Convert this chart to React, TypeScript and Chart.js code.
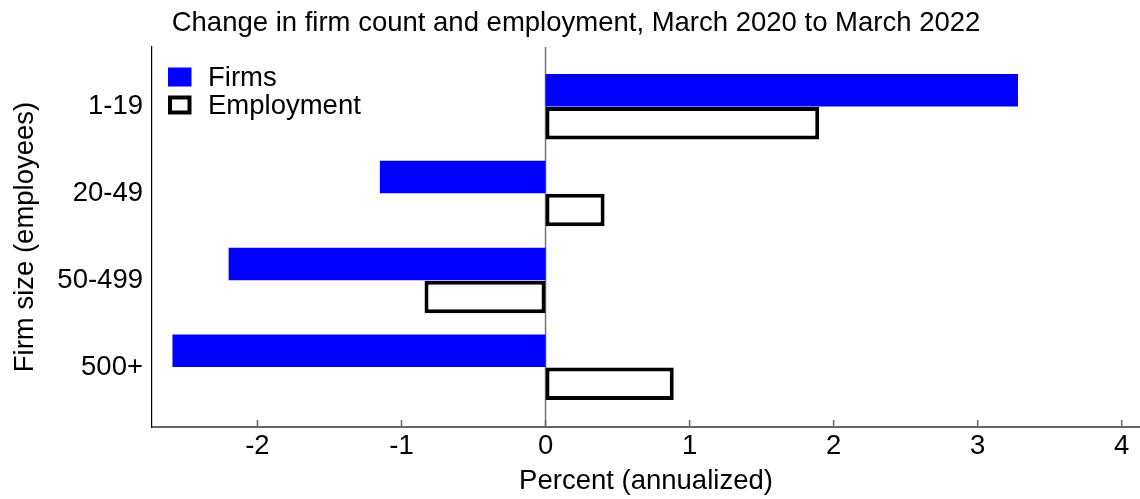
import React, { useEffect, useRef } from "react";
import { Chart, registerables } from "chart.js";

Chart.register(...registerables);

const categories = ["1-19", "20-49", "50-499", "500+"];
const firmsValues = [3.28, -1.15, -2.2, -2.59];
const employmentValues = [1.9, 0.41, -0.84, 0.89];
const xTickValues = [-2, -1, 0, 1, 2, 3, 4];
const titleText = "Change in firm count and employment, March 2020 to March 2022";
const xTitle = "Percent (annualized)";
const yTitle = "Firm size (employees)";
const seriesLabels = ["Firms", "Employment"];

const FONT = "'Liberation Sans', Arial, Helvetica, sans-serif";
const FS = 27.5;

const extrasPlugin = {
  id: "extras",
  afterLayout(chart: any) {
    const tb = chart.titleBlock;
    if (tb) {
      tb.left += 12;
    }
  },
  beforeDatasetsDraw(chart: any) {
    const { ctx, chartArea, scales } = chart;
    const x = scales.x;
    const px = x.getPixelForValue(0);
    ctx.save();
    ctx.strokeStyle = "#777";
    ctx.lineWidth = 1.5;
    ctx.beginPath();
    ctx.moveTo(px, chartArea.top);
    ctx.lineTo(px, chartArea.bottom);
    ctx.stroke();
    ctx.restore();
  },
  afterDraw(chart: any) {
    const { ctx, chartArea, scales } = chart;
    const x = scales.x;
    ctx.save();
    // inward tick marks
    ctx.strokeStyle = "#666";
    ctx.lineWidth = 1.5;
    for (const v of xTickValues) {
      const p = x.getPixelForValue(v);
      ctx.beginPath();
      ctx.moveTo(p, chartArea.bottom);
      ctx.lineTo(p, chartArea.bottom - 7);
      ctx.stroke();
    }
    // legend
    const ds = chart.data.datasets;
    const bx = chartArea.left + 16;
    const rows = [77, 105];
    ctx.font = `${FS}px ${FONT}`;
    ctx.textBaseline = "middle";
    ctx.textAlign = "left";
    ds.forEach((d: any, i: number) => {
      const cy = rows[i];
      const w = 23.5, h = 19;
      ctx.fillStyle = d.backgroundColor;
      ctx.fillRect(bx, cy - h / 2, w, h);
      if (d.borderWidth) {
        ctx.strokeStyle = d.borderColor;
        ctx.lineWidth = 4;
        ctx.strokeRect(bx + 2, cy - h / 2 + 2, w - 4, h - 4);
      }
      ctx.fillStyle = "#000";
      ctx.fillText(d.label, bx + 40, cy + 1);
    });
    ctx.restore();
  },
};

export default function App() {
  const ref = useRef<HTMLCanvasElement | null>(null);

  useEffect(() => {
    if (!ref.current) return;
    Chart.defaults.font.family = FONT;
    Chart.defaults.color = "#000";
    const chart = new Chart(ref.current, {
      type: "bar",
      data: {
        datasets: [
          {
            label: seriesLabels[0],
            data: firmsValues.map((v, i) => ({ x: v, y: i })),
            backgroundColor: "#0000ff",
            borderWidth: 0,
          },
          {
            label: seriesLabels[1],
            data: employmentValues.map((v, i) => ({ x: v, y: i })),
            backgroundColor: "#ffffff",
            borderColor: "#000000",
            borderWidth: 4,
            borderSkipped: false,
          },
        ],
      },
      options: {
        indexAxis: "y",
        animation: false,
        responsive: true,
        maintainAspectRatio: false,
        categoryPercentage: 0.76,
        barPercentage: 0.985,
        layout: { padding: 0 },
        plugins: {
          legend: { display: false },
          tooltip: { enabled: false },
          title: {
            display: true,
            text: titleText,
            font: { size: FS, weight: "normal", family: FONT },
            color: "#000",
            padding: { top: 7, bottom: 7 },
          },
        },
        scales: {
          x: {
            type: "linear",
            min: -2.732,
            max: 4.127,
            offset: false,
            afterBuildTicks: (s: any) => {
              s.ticks = xTickValues.map((v) => ({ value: v }));
            },
            afterFit: (s: any) => {
              s.height = 72;
            },
            grid: { display: false, drawTicks: false },
            border: { display: true, color: "#666", width: 2 },
            ticks: {
              padding: 3,
              font: { size: FS, family: FONT },
              color: "#000",
              maxRotation: 0,
              autoSkip: false,
            },
            title: {
              display: true,
              text: xTitle,
              font: { size: FS, family: FONT },
              color: "#000",
              padding: { top: 0, bottom: 1.5 },
            },
          },
          y: {
            type: "linear",
            reverse: true,
            offset: false,
            min: -0.688,
            max: 3.688,
            afterBuildTicks: (s: any) => {
              s.ticks = categories.map((_, i) => ({ value: i }));
            },
            afterFit: (s: any) => {
              s.width = 152;
            },
            grid: { display: false, drawTicks: false, offset: false },
            border: { display: true, color: "#000", width: 1.2 },
            ticks: {
              padding: 9,
              font: { size: FS, family: FONT },
              color: "#000",
              autoSkip: false,
              callback: (v: any) => categories[v as number] ?? "",
            },
            title: {
              display: true,
              text: yTitle,
              font: { size: FS, family: FONT },
              color: "#000",
              padding: { top: 8.5, bottom: 0 },
            },
          },
        },
      },
      plugins: [extrasPlugin],
    } as any);
    return () => chart.destroy();
  }, []);

  return (
    <div style={{ position: "absolute", left: 0, top: 0, width: 1140, height: 499, background: "#fff" }}>
      <canvas ref={ref} />
    </div>
  );
}
